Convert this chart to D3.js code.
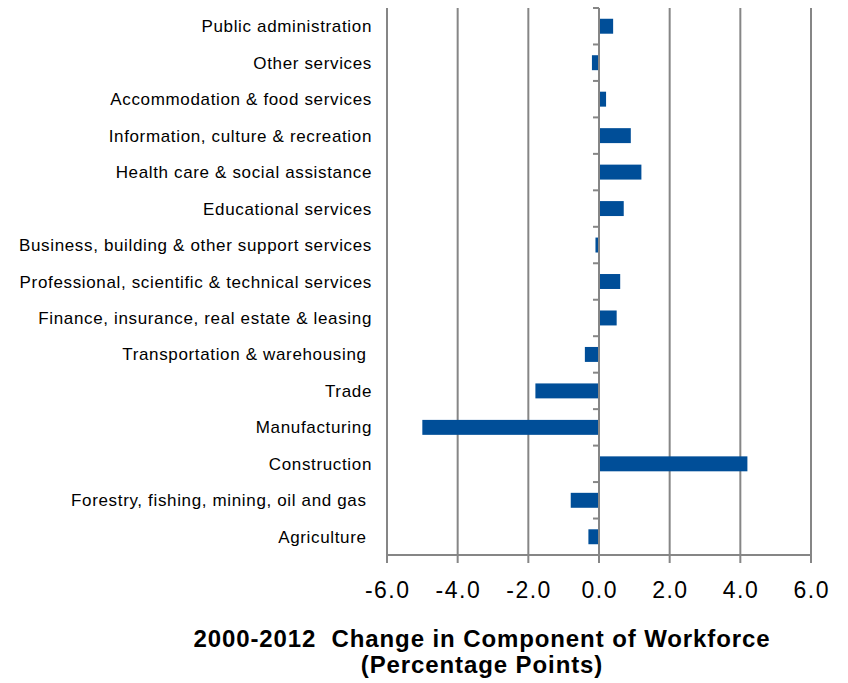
<!DOCTYPE html>
<html>
<head>
<meta charset="utf-8">
<script src="https://cdn.jsdelivr.net/npm/d3@7"></script>
<style>
  html, body { margin: 0; padding: 0; background: #fff; }
  svg { display: block; font-family: "Liberation Sans", Arial, sans-serif; }
  svg text { white-space: pre; }
</style>
</head>
<body>
<svg id="chart" width="848" height="683"></svg>
<script>
// Industries, listed top to bottom
const categories = [
  "Public administration",
  "Other services",
  "Accommodation & food services",
  "Information, culture & recreation",
  "Health care & social assistance",
  "Educational services",
  "Business, building & other support services",
  "Professional, scientific & technical services",
  "Finance, insurance, real estate & leasing",
  "Transportation & warehousing ",
  "Trade",
  "Manufacturing",
  "Construction",
  "Forestry, fishing, mining, oil and gas ",
  "Agriculture "
];

// Change in share of workforce, 2000-2012 (percentage points)
const changes = [0.4, -0.2, 0.2, 0.9, 1.2, 0.7, -0.1, 0.6, 0.5, -0.4, -1.8, -5.0, 4.2, -0.8, -0.3];

const tickValues = [-6, -4, -2, 0, 2, 4, 6];
const tickLabels = ["-6.0", "-4.0", "-2.0", "0.0", "2.0", "4.0", "6.0"];

const titleLines = ["2000-2012  Change in Component of Workforce", "(Percentage Points)"];

const svg = d3.select("#chart");
const plot = { left: 387, right: 811, top: 8, bottom: 555 };
const gridColor = "#868686";
const barColor = "#004E98";

const x = d3.scaleLinear().domain([-6, 6]).range([plot.left, plot.right]);
const y = d3.scaleBand().domain(categories).range([plot.top, plot.bottom])
  .paddingInner(0.59).paddingOuter(0.295);
const yStep = y.step();

// vertical gridlines, continuing below the axis as tick marks
svg.append("g").selectAll("line").data(tickValues).join("line")
  .attr("x1", d => x(d)).attr("x2", d => x(d))
  .attr("y1", plot.top).attr("y2", plot.bottom + 8)
  .attr("stroke", gridColor).attr("stroke-width", 2);

// bars
const rows = categories.map((c, i) => ({ cat: c, val: changes[i] }));
svg.append("g").selectAll("rect").data(rows).join("rect")
  .attr("x", d => Math.min(x(0), x(d.val)))
  .attr("width", d => Math.abs(x(d.val) - x(0)))
  .attr("y", d => y(d.cat))
  .attr("height", y.bandwidth())
  .attr("fill", barColor);

// category axis at zero, with band-boundary ticks
const zeroAxis = svg.append("g").attr("transform", `translate(${x(0)},0)`);
zeroAxis.append("line")
  .attr("y1", plot.top).attr("y2", plot.bottom)
  .attr("stroke", gridColor).attr("stroke-width", 2);
zeroAxis.selectAll("line.tick")
  .data(d3.range(categories.length + 1))
  .join("line").attr("class", "tick")
  .attr("x1", -6).attr("x2", 0)
  .attr("y1", i => plot.top + i * yStep).attr("y2", i => plot.top + i * yStep)
  .attr("stroke", gridColor).attr("stroke-width", 2);

// value axis line
svg.append("line")
  .attr("x1", plot.left).attr("x2", plot.right)
  .attr("y1", plot.bottom).attr("y2", plot.bottom)
  .attr("stroke", gridColor).attr("stroke-width", 2);

// value tick labels
svg.append("g").selectAll("text").data(tickValues).join("text")
  .attr("x", d => x(d) + 0.75).attr("y", 598)
  .attr("text-anchor", "middle")
  .attr("font-size", 23).attr("letter-spacing", 1.5).attr("fill", "#000")
  .text((d, i) => tickLabels[i]);

// category labels
svg.append("g").selectAll("text").data(categories).join("text")
  .attr("x", 372)
  .attr("y", d => y(d) + y.bandwidth() / 2 + 6)
  .attr("text-anchor", "end")
  .attr("font-size", 17).attr("letter-spacing", 0.65).attr("fill", "#000")
  .text(d => d);

// axis title
svg.append("g").selectAll("text").data(titleLines).join("text")
  .attr("x", 482).attr("y", (d, i) => 647 + i * 26)
  .attr("text-anchor", "middle")
  .attr("font-size", 24).attr("letter-spacing", 0.9)
  .attr("font-weight", "bold").attr("fill", "#000")
  .text(d => d);
</script>
</body>
</html>
